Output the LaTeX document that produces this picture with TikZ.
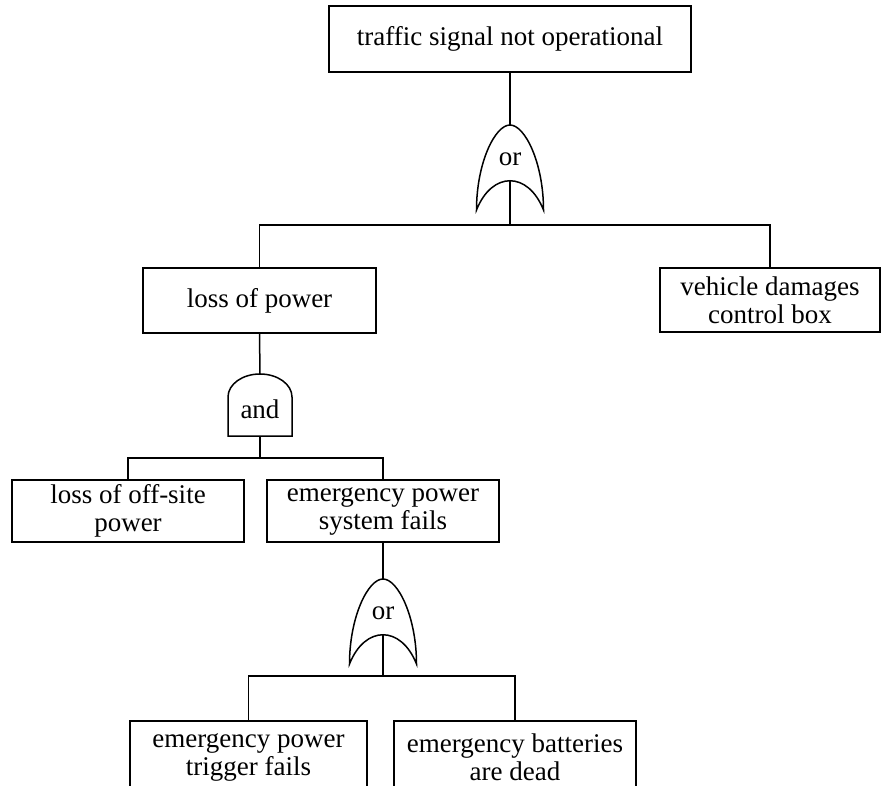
\documentclass[tikz,border=0pt]{standalone}
\usepackage{fontspec}
\setmainfont{Liberation Serif}
\usetikzlibrary{positioning}

\tikzset{
  % or-gate: apex is the output side, the concave base takes the inputs
  orgate/.pic={
    \draw (0,0) .. controls (15,0) and (33.5,38) .. (33.5,85)
          .. controls (18,46) and (-18,46) .. (-33.5,85)
          .. controls (-33.5,38) and (-15,0) .. cycle;
    \node[gatetext] (-lbl) at (0,34) {or};
    \coordinate (-in)  at (0,0);
    \coordinate (-out) at (0,56);
  },
  % and-gate: dome on top of a flat base
  andgate/.pic={
    \draw (-32,62) -- (-32,23) .. controls (-32,10.3) and (-17.7,0) .. (0,0)
          .. controls (17.7,0) and (32,10.3) .. (32,23) -- (32,62) -- cycle;
    \node[gatetext] (-lbl) at (0,35) {and};
    \coordinate (-in)  at (0,0);
    \coordinate (-out) at (0,62);
  }
}

\begin{document}
\begin{tikzpicture}[
  x=1pt, y=-1pt,
  line width=1.5pt,
  every node/.style={font=\fontsize{27}{28}\selectfont},
  event/.style={draw, align=center, inner sep=2pt},
  gatetext/.style={inner sep=0pt}
]
  \useasboundingbox (0,0) rectangle (881,786);
  \clip (0,0) rectangle (881,786);

  % events
  \node[event, minimum width=362pt, minimum height=66pt] (top)     at (510,39)    {traffic signal not operational};
  \node[event, minimum width=233pt, minimum height=65pt] (lossp)   at (259.5,300.5) {loss of power};
  \node[event, minimum width=220pt, minimum height=64pt] (vehicle) at (770,300)   {vehicle damages\\control box};
  \node[event, minimum width=232pt, minimum height=62pt] (offsite) at (128,511)   {loss of off-site\\power};
  \node[event, minimum width=232pt, minimum height=62pt] (epsf)    at (383,511)   {emergency power\\system fails};
  \node[event, minimum width=237pt, minimum height=72pt] (trigger) at (248.5,757) {emergency power\\trigger fails};
  \node[event, minimum width=242pt, minimum height=72pt] (batt)    at (515,757)   {emergency batteries\\are dead};

  % gates
  \pic (g1) at (510,125) {orgate};
  \pic (g2) at (260,374) {andgate};
  \pic (g3) at (383,579) {orgate};

  % connections
  \draw (top.south) -- (g1-in);
  \draw (g1-out) -- ++(0,44) coordinate (j1);
  \draw (lossp.north) |- (j1) -| (vehicle.north);

  \draw (lossp.south) -- (g2-in);
  \draw (g2-out) -- ++(0,22) coordinate (j2);
  \draw (offsite.north) |- (j2) -| (epsf.north);

  \draw (epsf.south) -- (g3-in);
  \draw (g3-out) -- ++(0,41) coordinate (j3);
  \draw (trigger.north) |- (j3) -| (batt.north);
\end{tikzpicture}
\end{document}
